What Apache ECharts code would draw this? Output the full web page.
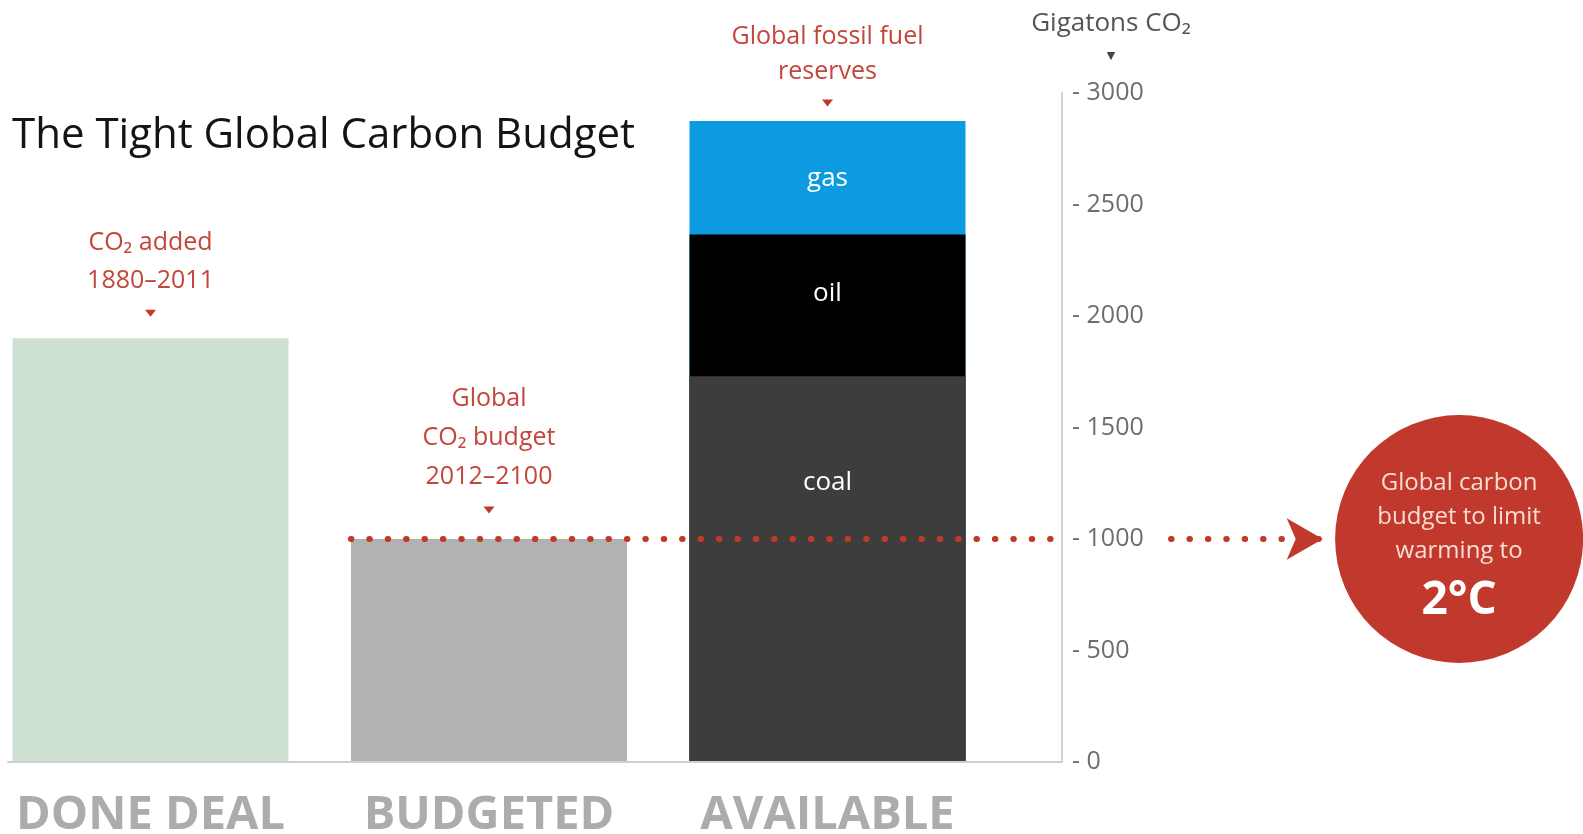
<!DOCTYPE html>
<html><head><meta charset="utf-8">
<script src="https://cdn.jsdelivr.net/npm/echarts@6/dist/echarts.min.js"></script>
<style>html,body{margin:0;padding:0;background:#fff}#c{width:1583px;height:834px}</style>
</head><body><div id="c"></div>
<script>
// ---- data ----
const categories = ['DONE DEAL', 'BUDGETED', 'AVAILABLE'];
const categoryPos = [1, 2, 3];
const doneDeal = [1900];
const budgeted = [1000];
const coal = [1730];
const oil = [635];
const gas = [510];
const fuelNames = ['coal', 'oil', 'gas'];
const yTicks = [0, 500, 1000, 1500, 2000, 2500, 3000];
const budgetLimit = 1000;
const annotationText = [
  ['CO₂ added', '1880–2011'],
  ['Global', 'CO₂ budget', '2012–2100'],
  ['Global fossil fuel', 'reserves']
];
const axisTitle = 'Gigatons CO₂';
const badgeLines = ['Global carbon', 'budget to limit', 'warming to'];
const badgeValue = '2°C';
const chartTitle = 'The Tight Global Carbon Budget';

// ---- layout (axis units: bar slots) ----
const X_MIN = 0.576, X_MAX = 5.232;
const AXIS_X = 3.693;        // where the value axis stands
const BAR_HALF = 0.408;      // half bar width in slot units
const ARROW_START = 4.015, ARROW_END = 4.463;
const BADGE_X = 4.866;

const RED = '#c0392b';
const RED_TEXT = '#c4453b';
const FONT = 'Open Sans';

// stacked tops of the "available" column (coal at bottom, then oil, then gas)
const coalTop = coal.map(v => v);
const oilTop = oil.map((v, i) => v + coal[i]);
const gasTop = gas.map((v, i) => v + oil[i] + coal[i]);

function annLabel(lines, lh) {
  return {
    show: true, position: 'top', distance: 10,
    formatter: lines.map(l => '{t|' + l + '}').join('\n'),
    rich: { t: { fontFamily: FONT, fontSize: 25, lineHeight: lh, color: RED_TEXT, align: 'center' } }
  };
}
function annPoint(x, y, gap, lines, lh) {
  return {
    silent: true,
    symbol: 'path://M0 0L10 0L5 7Z',
    symbolSize: [11, 7],
    symbolOffset: [0, -gap],
    itemStyle: { color: RED },
    label: annLabel(lines, lh),
    data: [{ coord: [x, y] }]
  };
}
function xy(xs, ys) { return ys.map((v, i) => [xs[i], v]); }

const dotted = { color: RED, width: 6, type: [0.5, 17.9], cap: 'round' };
const inLabel = (txt, dist) => ({ show: true, position: 'insideTop', distance: dist, formatter: txt, color: '#fff', fontFamily: FONT, fontSize: 26 });

const chart = echarts.init(document.getElementById('c'));
chart.setOption({
  animation: false,
  backgroundColor: '#fff',
  textStyle: { fontFamily: FONT },
  title: {
    text: chartTitle, left: 12, top: 115, padding: 0,
    textStyle: { fontFamily: FONT, fontSize: 42, fontWeight: 'normal', color: '#141414' }
  },
  grid: { left: 7, right: 0, top: 93, bottom: 72, containLabel: false, outerBoundsMode: 'none' },
  xAxis: {
    type: 'value', min: X_MIN, max: X_MAX,
    axisLine: { show: false }, axisTick: { show: false }, splitLine: { show: false },
    axisLabel: {
      customValues: categoryPos,
      formatter: v => categories[categoryPos.indexOf(Math.round(v))] || '',
      fontFamily: FONT, fontSize: 47, fontWeight: 'bold', color: '#acacac', margin: 30
    }
  },
  yAxis: {
    type: 'value', min: yTicks[0], max: yTicks[yTicks.length - 1], interval: 500,
    position: 'right', offset: -521,
    axisLine: { show: true, lineStyle: { color: '#d2d2d2', width: 2 } },
    axisTick: { show: false }, splitLine: { show: false },
    axisLabel: { formatter: v => '- ' + v, fontFamily: FONT, fontSize: 25, color: '#6e6e6e', margin: 10 },
    name: '{t|' + axisTitle + '}\n{a|▼}',
    nameLocation: 'end', nameGap: 22,
    nameTextStyle: {
      padding: [0, 0, 0, 98],
      rich: {
        t: { fontFamily: FONT, fontSize: 26, lineHeight: 34, color: '#555', align: 'center' },
        a: { fontFamily: 'DejaVu Sans', fontSize: 11, lineHeight: 30, color: '#444', align: 'center' }
      }
    }
  },
  series: [
    {
      name: categories[0], type: 'bar', barWidth: 276, barGap: '-100%',
      itemStyle: { color: '#cde0d1' },
      data: xy([categoryPos[0]], doneDeal),
      markPoint: annPoint(categoryPos[0], doneDeal[0], 25, annotationText[0], 38)
    },
    {
      name: categories[1], type: 'bar', barWidth: 276, barGap: '-100%',
      itemStyle: { color: '#b1b2b4' },
      data: xy([categoryPos[1]], budgeted),
      markPoint: annPoint(categoryPos[1], budgeted[0], 29, annotationText[1], 39),
      markLine: {
        silent: true, symbol: 'none', label: { show: false }, z: 5,
        data: [
          [{ coord: [X_MIN + 0.001, 0], lineStyle: { color: '#cfcfcf', width: 2, type: 'solid' } }, { coord: [AXIS_X, 0] }],
          [{ coord: [categoryPos[1] - BAR_HALF, budgetLimit], lineStyle: dotted }, { coord: [AXIS_X, budgetLimit] }],
          [{ coord: [ARROW_START, budgetLimit], lineStyle: dotted, symbol: 'none' },
           { coord: [ARROW_END, budgetLimit], symbol: 'arrow', symbolSize: [31, 36] }]
        ],
        itemStyle: { color: RED }
      }
    },
    {
      name: fuelNames[2], type: 'bar', barWidth: 276, barGap: '-100%',
      itemStyle: { color: '#0c9be0' },
      label: inLabel(fuelNames[2], 45),
      data: xy([categoryPos[2]], gasTop),
      markPoint: annPoint(categoryPos[2], gasTop[0], 18, annotationText[2], 35)
    },
    {
      name: fuelNames[1], type: 'bar', barWidth: 276, barGap: '-100%',
      itemStyle: { color: '#000000' },
      label: inLabel(fuelNames[1], 46),
      data: xy([categoryPos[2]], oilTop)
    },
    {
      name: fuelNames[0], type: 'bar', barWidth: 276, barGap: '-100%',
      itemStyle: { color: '#3d3d3d' },
      label: inLabel(fuelNames[0], 93),
      data: xy([categoryPos[2]], coalTop)
    },
    {
      name: 'badge', type: 'scatter', symbolSize: 248, silent: true,
      itemStyle: { color: '#c1392d', opacity: 1 },
      data: [[BADGE_X, budgetLimit]],
      label: {
        show: true, position: 'inside', offset: [0, 11],
        formatter: badgeLines.map(l => '{t|' + l + '}').join('\n') + '\n{b|' + badgeValue + '}',
        rich: {
          t: { fontFamily: FONT, fontSize: 24, lineHeight: 34, color: '#f9dcd4', align: 'center' },
          b: { fontFamily: FONT, fontSize: 46, fontWeight: 'bold', lineHeight: 66, color: '#ffffff', align: 'center' }
        }
      }
    }
  ]
});
</script>
</body></html>
